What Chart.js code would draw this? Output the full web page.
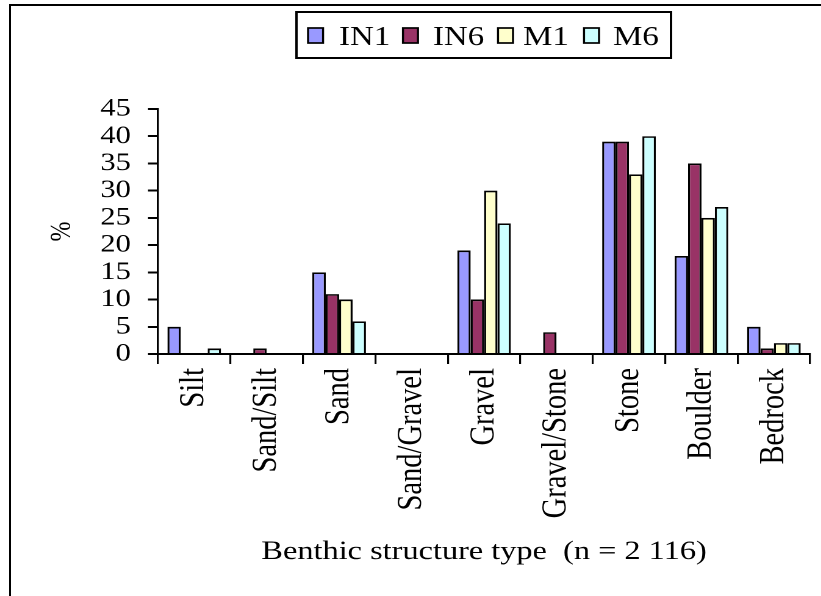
<!DOCTYPE html>
<html>
<head>
<meta charset="utf-8">
<script src="https://cdn.jsdelivr.net/npm/chart.js@4/dist/chart.umd.min.js"></script>
<style>
  html, body { margin: 0; padding: 0; background: #fff; }
  body { width: 821px; height: 596px; overflow: hidden; position: relative; }
  #frame { position: absolute; left: 9px; top: 4px; right: -10px; bottom: -10px;
           border-left: 2px solid #000; border-top: 2px solid #000; }
  /* the chart is laid out narrow and widened horizontally, like the original figure */
  #wrap { position: absolute; left: 0; top: 0; width: 673px; height: 596px;
          transform: scaleX(1.22); transform-origin: 0 0; }
</style>
</head>
<body>
<div id="frame"></div>
<div id="wrap"><canvas id="c" width="673" height="596"></canvas></div>
<script>
// Benthic structure type shares (%) per site
const categories = ['Silt', 'Sand/Silt', 'Sand', 'Sand/Gravel', 'Gravel', 'Gravel/Stone', 'Stone', 'Boulder', 'Bedrock'];
const seriesNames = ['IN1', 'IN6', 'M1', 'M6'];
const in1 = [5, 0, 15, 0, 19, 0, 39, 18, 5];
const in6 = [0, 1, 11, 0, 10, 4, 39, 35, 1];
const m1  = [0, 0, 10, 0, 30, 0, 33, 25, 2];
const m6  = [1, 0, 6, 0, 24, 0, 40, 27, 2];
const yMin = 0, yMax = 45, yStep = 5;
const xTitle = 'Benthic structure type  (n = 2 116)';
const yTitle = '%';

const colors = ['#9999FF', '#993366', '#FFFFCC', '#CCFFFF'];
const serif = '"Liberation Serif", "Times New Roman", serif';

// boxed legend across the top
const boxedLegend = {
  id: 'boxedLegend',
  afterDraw(chart) {
    const ctx = chart.ctx;
    ctx.save();
    ctx.lineWidth = 2;
    ctx.strokeStyle = '#000';
    ctx.strokeRect(243, 12, 307, 46);
    const swatchX = [252.5, 330.3, 408.2, 478.7];
    const textX = [277.9, 354.9, 428.7, 502.5];
    ctx.font = '27px ' + serif;
    ctx.textBaseline = 'alphabetic';
    ctx.textAlign = 'left';
    chart.data.datasets.forEach((ds, i) => {
      ctx.fillStyle = ds.backgroundColor;
      ctx.fillRect(swatchX[i], 28, 12.3, 15);
      ctx.lineWidth = 1.7;
      ctx.strokeStyle = '#000';
      ctx.strokeRect(swatchX[i], 28, 12.3, 15);
      ctx.fillStyle = '#000';
      ctx.fillText(ds.label, textX[i], 45);
    });
    ctx.restore();
  }
};

const seriesValues = [in1, in6, m1, m6];

new Chart(document.getElementById('c'), {
  type: 'bar',
  data: {
    labels: categories,
    datasets: seriesNames.map((name, i) => ({
      label: name,
      data: seriesValues[i],
      backgroundColor: colors[i],
      borderColor: '#000',
      borderWidth: 1.7,
      categoryPercentage: 0.74,
      barPercentage: 1.0
    }))
  },
  options: {
    responsive: false,
    animation: false,
    devicePixelRatio: 2,
    layout: { padding: { top: 109, left: 0, right: 8.25, bottom: 0 } },
    plugins: {
      legend: { display: false },
      tooltip: { enabled: false }
    },
    scales: {
      x: {
        afterFit(scale) { scale.height = 242; },
        grid: { display: true, drawOnChartArea: false, drawTicks: true, tickLength: 10, color: '#000', lineWidth: 1.6 },
        border: { display: true, color: '#000', width: 2 },
        ticks: { color: '#000', font: { family: serif, size: 28.5 }, minRotation: 90, maxRotation: 90, padding: 4, autoSkip: false },
        title: { display: true, text: xTitle, color: '#000', font: { family: serif, size: 26.5 }, padding: { top: 0, bottom: 28 } }
      },
      y: {
        min: yMin, max: yMax,
        afterFit(scale) { scale.width = 129.5; },
        grid: { display: true, drawOnChartArea: false, drawTicks: true, tickLength: 8.2, color: '#000', lineWidth: 2 },
        border: { display: true, color: '#000', width: 1.7 },
        ticks: { stepSize: yStep, autoSkip: false, color: '#000', font: { family: serif, size: 25 }, padding: 14 },
        title: { display: true, text: yTitle, color: '#000', font: { family: serif, size: 24 }, padding: { top: 37, bottom: 0 } }
      }
    }
  },
  plugins: [boxedLegend]
});
</script>
</body>
</html>
